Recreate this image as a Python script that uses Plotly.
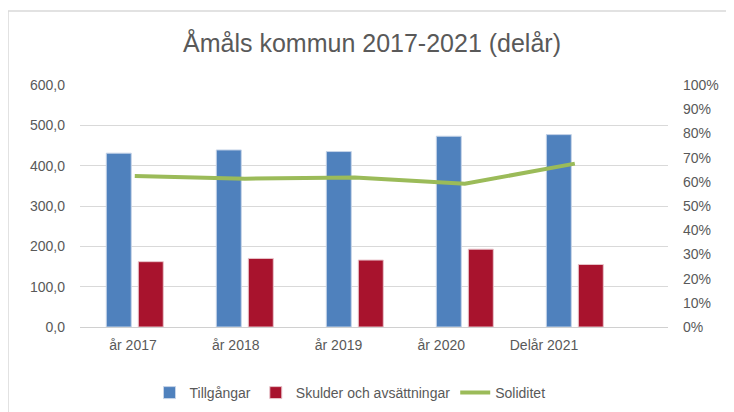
import plotly.graph_objects as go

categories = ["år 2017", "år 2018", "år 2019", "år 2020", "Delår 2021"]
tillgangar = [431, 439, 435, 473, 477]
skulder = [162, 170, 166, 193, 155]
soliditet = [0.624, 0.613, 0.618, 0.592, 0.675]
left_ticks = [0, 100, 200, 300, 400, 500, 600]
left_labels = ["0,0", "100,0", "200,0", "300,0", "400,0", "500,0", "600,0"]

txt = "#595959"
font = "Liberation Sans"

# page is offset by the 8px default body margin; compensate in figure coords
OFF = 8
W, H = 734 - OFF, 412 - OFF
L, T, PW, PH = 80 - OFF, 85 - OFF, 588, 242

fig = go.Figure()
fig.add_trace(go.Bar(name="Tillgångar", x=categories, y=tillgangar,
                     marker=dict(color="#4F81BD", line=dict(color="#C6D4E8", width=1))))
fig.add_trace(go.Bar(name="Skulder och avsättningar", x=categories, y=skulder,
                     marker=dict(color="#A8132D", line=dict(color="#E8C4CA", width=1))))
fig.add_trace(go.Scatter(name="Soliditet", x=categories, y=soliditet, yaxis="y2",
                         mode="lines", line=dict(color="#9BBB59", width=4)))
# category labels axis
fig.add_trace(go.Scatter(x=categories, y=[None]*5, xaxis="x2", showlegend=False,
                         hoverinfo="skip", mode="markers"))

fig.update_layout(
    template="none",
    width=W, height=H,
    margin=dict(l=L, r=W - L - PW, t=T, b=H - T - PH, pad=0),
    paper_bgcolor="white", plot_bgcolor="white",
    font=dict(family=font, size=14, color=txt),
    title=dict(text="Åmåls kommun 2017-2021 (delår)", x=(372 - OFF) / W, xanchor="center",
               y=1 - (43 - OFF) / H, yanchor="middle",
               font=dict(family=font, size=25, color=txt)),
    barmode="group", bargap=0.418, bargroupgap=0.22,
    xaxis=dict(type="category", categoryarray=categories, range=[-0.498, 4.847],
               showticklabels=False, showgrid=False, showline=True, automargin=False,
               linecolor="#D0D0D0", linewidth=1, ticks="", zeroline=False),
    xaxis2=dict(type="category", categoryarray=categories, overlaying="x", anchor="y",
                side="bottom", range=[-0.516, 5.207], showgrid=False, showline=False,
                automargin=False, zeroline=False,
                ticks="", ticklabelstandoff=8, tickfont=dict(size=14, color=txt)),
    yaxis=dict(range=[0, 600], tickvals=left_ticks, ticktext=left_labels, automargin=False,
               showgrid=True, gridcolor="#D9D9D9", gridwidth=1, zeroline=False, showline=False,
               ticks="", ticklabelstandoff=14, tickfont=dict(size=14, color=txt)),
    yaxis2=dict(range=[0, 1], dtick=0.1, tickformat=".0%", overlaying="y", side="right",
                showgrid=False, zeroline=False, showline=False, ticks="", ticklabelstandoff=14,
                automargin=False, tickfont=dict(size=14, color=txt)),
    legend=dict(orientation="h", xref="container", yref="container",
                x=(350 - OFF) / W, xanchor="center",
                y=1 - (393 - OFF) / H, yanchor="middle",
                font=dict(size=14, color=txt), bgcolor="rgba(0,0,0,0)",
                traceorder="normal"),
    shapes=[dict(type="rect", xref="paper", yref="paper",
                 x0=(8 - 80) / PW, x1=(745 - 80) / PW,
                 y0=(327 - 430) / PH, y1=(327 - 11) / PH,
                 line=dict(color="#D9D9D9", width=1.5), fillcolor="rgba(0,0,0,0)",
                 layer="below")],
    showlegend=True,
)

fig.write_html("out.html")
